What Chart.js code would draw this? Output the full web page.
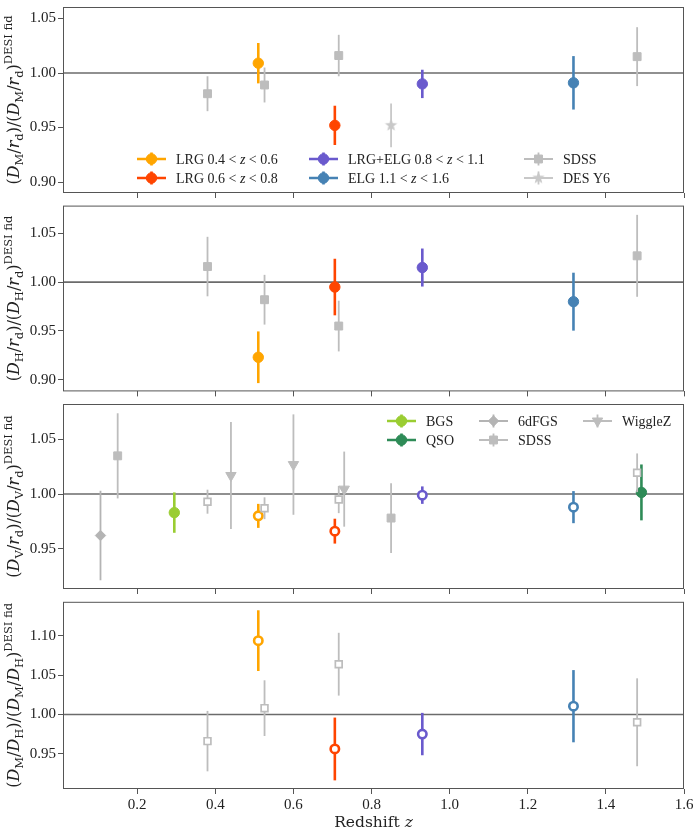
<!DOCTYPE html>
<html>
<head>
<meta charset="utf-8">
<script src="https://cdn.jsdelivr.net/npm/chart.js"></script>
<style>
  body { margin: 0; background: #fff; }
  #wrap { position: relative; width: 694px; height: 831px; }
  #wrap canvas { position: absolute; left: 0; }
</style>
</head>
<body>
<div id="wrap">
  <canvas id="pDM" width="694" height="200" style="top:0px"></canvas>
  <canvas id="pDH" width="694" height="199" style="top:199px"></canvas>
  <canvas id="pDV" width="694" height="199" style="top:397px"></canvas>
  <canvas id="pFAP" width="694" height="236" style="top:595px"></canvas>
</div>
<script>
// ---- DESI tracers
const tracerLabels = ['BGS', 'LRG 0.4 < z < 0.6', 'LRG 0.6 < z < 0.8', 'LRG+ELG 0.8 < z < 1.1', 'ELG 1.1 < z < 1.6', 'QSO'];
const tracerZ   = [0.295, 0.510, 0.706, 0.930, 1.317, 1.491];
const dmRatio   = [null, 1.009, 0.952, 0.990, 0.991, null];
const dmErr     = [null, 0.0185, 0.018, 0.013, 0.0245, null];
const dhRatio   = [null, 0.923, 0.995, 1.015, 0.980, null];
const dhErr     = [null, 0.0265, 0.029, 0.0195, 0.0297, null];
const dvRatio   = [0.983, 0.980, 0.966, 0.999, 0.988, 1.0015];
const dvErr     = [0.0185, 0.011, 0.0114, 0.008, 0.0147, 0.0256];
const fapRatio  = [null, 1.094, 0.956, 0.975, 1.0105, null];
const fapErr    = [null, 0.0387, 0.040, 0.027, 0.046, null];

// ---- SDSS (MGS, BOSS, BOSS, eBOSS LRG, eBOSS ELG, eBOSS QSO)
const sdssZ     = [0.15, 0.38, 0.526, 0.716, 0.85, 1.48];
const sdssDM    = [null, 0.981, 0.989, 1.016, null, 1.015];
const sdssDMErr = [null, 0.016, 0.016, 0.019, null, 0.027];
const sdssDH    = [null, 1.016, 0.982, 0.955, null, 1.027];
const sdssDHErr = [null, 0.0305, 0.0255, 0.026, null, 0.042];
const sdssDV    = [1.035, 0.993, 0.987, 0.995, 0.978, 1.0195];
const sdssDVErr = [0.039, 0.011, 0.010, 0.0125, 0.032, 0.0177];
const sdssFAP   = [null, 0.966, 1.008, 1.064, null, 0.990];
const sdssFAPErr= [null, 0.0385, 0.0355, 0.040, null, 0.056];

// ---- other surveys
const desZ = [0.85], desDM = [0.952], desDMErr = [0.020];
const sixdfZ = [0.106], sixdfDV = [0.962], sixdfDVErr = [0.041];
const wigZ = [0.44, 0.60, 0.73], wigDV = [1.017, 1.027, 1.0045], wigDVErr = [0.049, 0.046, 0.0344];

// ---- ticks
const xTicks = [0.2, 0.4, 0.6, 0.8, 1.0, 1.2, 1.4, 1.6];
const yTicksDM = [0.90, 0.95, 1.00, 1.05];
const yTicksDH = [0.90, 0.95, 1.00, 1.05];
const yTicksDV = [0.95, 1.00, 1.05];
const yTicksFAP = [0.95, 1.00, 1.05, 1.10];

// ---- styles
const tracerColors = ['#9ACD32', '#FFA500', '#FF4500', '#6A5ACD', '#4682B4', '#2E8B57'];
const dvOpen = [false, true, true, true, true, false];
const sdssDVOpen = [false, true, true, true, false, true];
const GREY = '#bdbdbd';
const SERIF = 'DejaVu Serif';
const TICKFONT = 'Liberation Serif';

function starImage(color, r) {
  const c = document.createElement('canvas');
  const s = Math.ceil(r * 2 + 2);
  c.width = c.height = s;
  const g = c.getContext('2d');
  g.fillStyle = color;
  g.beginPath();
  for (let i = 0; i < 10; i++) {
    const a = -Math.PI / 2 + i * Math.PI / 5;
    const rr = i % 2 ? r * 0.42 : r;
    g.lineTo(s / 2 + rr * Math.cos(a), s / 2 + rr * Math.sin(a));
  }
  g.closePath();
  g.fill();
  return c;
}
const starMark = starImage('#c8c8c8', 6.5);

function series(label, zs, ys, es, st) {
  const data = [], errs = [];
  zs.forEach((z, i) => {
    if (ys[i] != null) { data.push({x: z, y: ys[i]}); errs.push(es[i]); }
  });
  return Object.assign({label: label, data: data, errs: errs}, st);
}

function desiSets(vals, errs, open) {
  const out = [];
  tracerZ.forEach((z, i) => {
    if (vals[i] == null) return;
    const c = tracerColors[i];
    const o = open && open[i];
    out.push(series(tracerLabels[i], [z], [vals[i]], [errs[i]], {
      pointStyle: 'circle', pointRadius: o ? 4.2 : 5.2,
      pointBackgroundColor: o ? '#fff' : c, pointBorderColor: c, pointBorderWidth: o ? 2.6 : 1,
      errColor: c, errWidth: 2.6, legendFill: c, legendRadius: 5.2
    }));
  });
  return out;
}

function sdssSet(vals, errs, open) {
  const zs = [], ys = [], es = [], fill = [], rad = [], bw = [];
  sdssZ.forEach((z, i) => {
    if (vals[i] == null) return;
    const o = open ? open[i] : false;
    zs.push(z); ys.push(vals[i]); es.push(errs[i]);
    fill.push(o ? '#fff' : GREY); rad.push(o ? 4.8 : 5.6); bw.push(o ? 1.7 : 1);
  });
  return series('SDSS', zs, ys, es, {
    pointStyle: 'rect', pointRadius: rad, pointBackgroundColor: fill, pointBorderColor: GREY,
    pointBorderWidth: bw, errColor: GREY, errWidth: 1.8, legendFill: GREY, legendRadius: 5.6
  });
}

function ratioLabel(a, b) {
  const p = [['(', 'r'], [a[0], 'i'], [a[1], 'b'], ['/', 'r'], [b[0], 'i'], [b[1], 'b'], [')/(', 'r'],
             [a[0], 'i'], [a[1], 'b'], ['/', 'r'], [b[0], 'i'], [b[1], 'b'], [')', 'r'], ['DESI fid', 'p']];
  return p;
}

function richParts(parts, size, family) {
  return parts.map(([t, k]) => {
    const small = k === 'b' || k === 'p';
    const fs = small ? size * 0.72 : size;
    const style = k === 'i' ? 'italic ' : '';
    const dy = k === 'b' ? size * 0.25 : (k === 'p' ? -size * 0.45 : 0);
    return {t: t, font: style + fs + 'px "' + family + '"', dy: dy};
  });
}

function drawRich(ctx, parts, x, y, align) {
  let w = 0;
  parts.forEach(p => { ctx.font = p.font; p.w = ctx.measureText(p.t).width; w += p.w; });
  let cx = align === 'center' ? x - w / 2 : x;
  ctx.textAlign = 'left';
  ctx.textBaseline = 'alphabetic';
  parts.forEach(p => { ctx.font = p.font; ctx.fillText(p.t, cx, y + p.dy); cx += p.w; });
}

function labelParts(label) {
  return label.split(/(\bz\b)/).filter(s => s.length).map(s => [s, s === 'z' ? 'i' : 'r']);
}

// error bars drawn under each dataset's markers
const errorBars = {
  id: 'errorBars',
  beforeDatasetDraw(chart, args) {
    const ds = chart.data.datasets[args.index];
    if (!ds.errs) return;
    const {ctx, scales: {x, y}} = chart;
    ctx.save();
    ctx.strokeStyle = ds.errColor;
    ctx.lineWidth = ds.errWidth;
    ds.data.forEach((p, i) => {
      const px = x.getPixelForValue(p.x);
      ctx.beginPath();
      ctx.moveTo(px, y.getPixelForValue(p.y - ds.errs[i]));
      ctx.lineTo(px, y.getPixelForValue(p.y + ds.errs[i]));
      ctx.stroke();
    });
    ctx.restore();
  }
};

// frame, unity line, axis titles
const frame = {
  id: 'frame',
  beforeDatasetsDraw(chart) {
    const {ctx, chartArea: a, scales: {y}} = chart;
    const py = y.getPixelForValue(1);
    ctx.save();
    ctx.strokeStyle = '#6b6b6b';
    ctx.lineWidth = 1.6;
    ctx.beginPath(); ctx.moveTo(a.left, py); ctx.lineTo(a.right, py); ctx.stroke();
    ctx.restore();
  },
  afterDraw(chart, args, opts) {
    const {ctx, chartArea: a} = chart;
    ctx.save();
    ctx.strokeStyle = '#555';
    ctx.lineWidth = 1;
    ctx.strokeRect(a.left + 0.5, a.top + 0.5, a.right - a.left - 1, a.bottom - a.top - 1);
    ctx.fillStyle = '#222';
    if (opts.yTitle) {
      ctx.save();
      ctx.translate(19, (a.top + a.bottom) / 2);
      ctx.rotate(-Math.PI / 2);
      drawRich(ctx, richParts(opts.yTitle, 16, SERIF), 0, 0, 'center');
      ctx.restore();
    }
    if (opts.xTitle) {
      drawRich(ctx, richParts(opts.xTitle, 15.5, SERIF), (a.left + a.right) / 2, opts.xTitleY, 'center');
    }
    ctx.restore();
  }
};

// legend drawn inside the axes
const inLegend = {
  id: 'inLegend',
  afterDatasetsDraw(chart, args, opts) {
    if (!opts.order) return;
    const {ctx, chartArea: a} = chart;
    opts.order.forEach((lab, n) => {
      const ds = chart.data.datasets.find(d => d.label === lab);
      const col = Math.floor(n / opts.rows.length), row = n % opts.rows.length;
      const x0 = a.left + opts.cols[col], y0 = a.top + opts.rows[row];
      ctx.save();
      ctx.strokeStyle = ds.errColor;
      ctx.lineWidth = ds.errWidth;
      ctx.beginPath();
      ctx.moveTo(x0, y0); ctx.lineTo(x0 + 29, y0);
      ctx.moveTo(x0 + 14.5, y0 - 6.5); ctx.lineTo(x0 + 14.5, y0 + 6.5);
      ctx.stroke();
      if (ds.pointStyle === 'star') {
        ctx.drawImage(starMark, x0 + 14.5 - starMark.width / 2, y0 - starMark.height / 2);
      } else {
        ctx.fillStyle = ds.legendFill;
        ctx.lineWidth = 1;
        Chart.helpers.drawPoint(ctx, {pointStyle: ds.pointStyle, radius: ds.legendRadius,
          rotation: ds.pointRotation || 0, borderWidth: 1}, x0 + 14.5, y0);
      }
      ctx.fillStyle = '#222';
      drawRich(ctx, richParts(labelParts(lab), 14, TICKFONT), x0 + 39, y0 + 5, 'left');
      ctx.restore();
    });
  }
};

function makePanel(id, datasets, yMin, yMax, yTicks, opt) {
  const last = !!opt.xTitle;
  return new Chart(document.getElementById(id), {
    type: 'scatter',
    data: {datasets: datasets},
    plugins: [errorBars, frame, inLegend],
    options: {
      responsive: false,
      animation: false,
      events: [],
      layout: {padding: {top: 5, right: 10, left: 0, bottom: 0}},
      plugins: {
        legend: {display: false},
        tooltip: {enabled: false},
        frame: {yTitle: opt.yTitle, xTitle: opt.xTitle, xTitleY: opt.xTitleY},
        inLegend: opt.legend || {}
      },
      scales: {
        x: {
          type: 'linear', min: 0.01, max: 1.6,
          afterBuildTicks: s => { s.ticks = xTicks.map(v => ({value: v})); },
          afterFit: s => { s.height = last ? 42 : 6; s.paddingLeft = 0; s.paddingRight = 0; },
          grid: {drawOnChartArea: false, drawTicks: true, tickLength: 5, color: '#555'},
          border: {display: false},
          ticks: {display: last, autoSkip: false, maxRotation: 0, padding: 2, color: '#222',
            font: {family: TICKFONT, size: 15}, callback: v => v.toFixed(1)}
        },
        y: {
          min: yMin, max: yMax,
          afterBuildTicks: s => { s.ticks = yTicks.map(v => ({value: v})); },
          afterFit: s => { s.width = 63; s.paddingTop = 0; s.paddingBottom = 0; },
          grid: {drawOnChartArea: false, drawTicks: true, tickLength: 5, color: '#555'},
          border: {display: false},
          ticks: {autoSkip: false, padding: 2, color: '#222',
            font: {family: TICKFONT, size: 15}, callback: v => v.toFixed(2)}
        }
      }
    }
  });
}

// panel 1: D_M / r_d
makePanel('pDM', [
  sdssSet(sdssDM, sdssDMErr, null),
  series('DES Y6', desZ, desDM, desDMErr, {pointStyle: starMark, pointRadius: 6, errColor: '#c8c8c8', errWidth: 1.8}),
  ...desiSets(dmRatio, dmErr, null)
], 0.890, 1.0605, yTicksDM, {
  yTitle: ratioLabel(['D', 'M'], ['r', 'd']),
  legend: {order: [tracerLabels[1], tracerLabels[2], tracerLabels[3], tracerLabels[4], 'SDSS', 'DES Y6'],
           cols: [74, 246, 461], rows: [152, 171]}
});

// panel 2: D_H / r_d
makePanel('pDH', [
  sdssSet(sdssDH, sdssDHErr, null),
  ...desiSets(dhRatio, dhErr, null)
], 0.888, 1.0785, yTicksDH, {yTitle: ratioLabel(['D', 'H'], ['r', 'd'])});

// panel 3: D_V / r_d
makePanel('pDV', [
  series('6dFGS', sixdfZ, sixdfDV, sixdfDVErr, {pointStyle: 'rectRot', pointRadius: 5.2, pointBackgroundColor: '#b4b4b4',
    pointBorderColor: '#b4b4b4', errColor: '#b4b4b4', errWidth: 1.8, legendFill: '#b4b4b4', legendRadius: 5.2}),
  sdssSet(sdssDV, sdssDVErr, sdssDVOpen),
  series('WiggleZ', wigZ, wigDV, wigDVErr, {pointStyle: 'triangle', pointRotation: 180, pointRadius: 6,
    pointBackgroundColor: GREY, pointBorderColor: GREY, errColor: GREY, errWidth: 1.8, legendFill: GREY, legendRadius: 6}),
  ...desiSets(dvRatio, dvErr, dvOpen)
], 0.913, 1.0825, yTicksDV, {
  yTitle: ratioLabel(['D', 'V'], ['r', 'd']),
  legend: {order: [tracerLabels[0], tracerLabels[5], '6dFGS', 'SDSS', 'WiggleZ'],
           cols: [324, 416, 520], rows: [17, 36]}
});

// panel 4: D_M / D_H
makePanel('pFAP', [
  sdssSet(sdssFAP, sdssFAPErr, [true, true, true, true, true, true]),
  ...desiSets(fapRatio, fapErr, [true, true, true, true, true, true])
], 0.905, 1.1435, yTicksFAP, {
  yTitle: ratioLabel(['D', 'M'], ['D', 'H']),
  xTitle: [['Redshift ', 'r'], ['z', 'i']], xTitleY: 232
});
</script>
</body>
</html>
